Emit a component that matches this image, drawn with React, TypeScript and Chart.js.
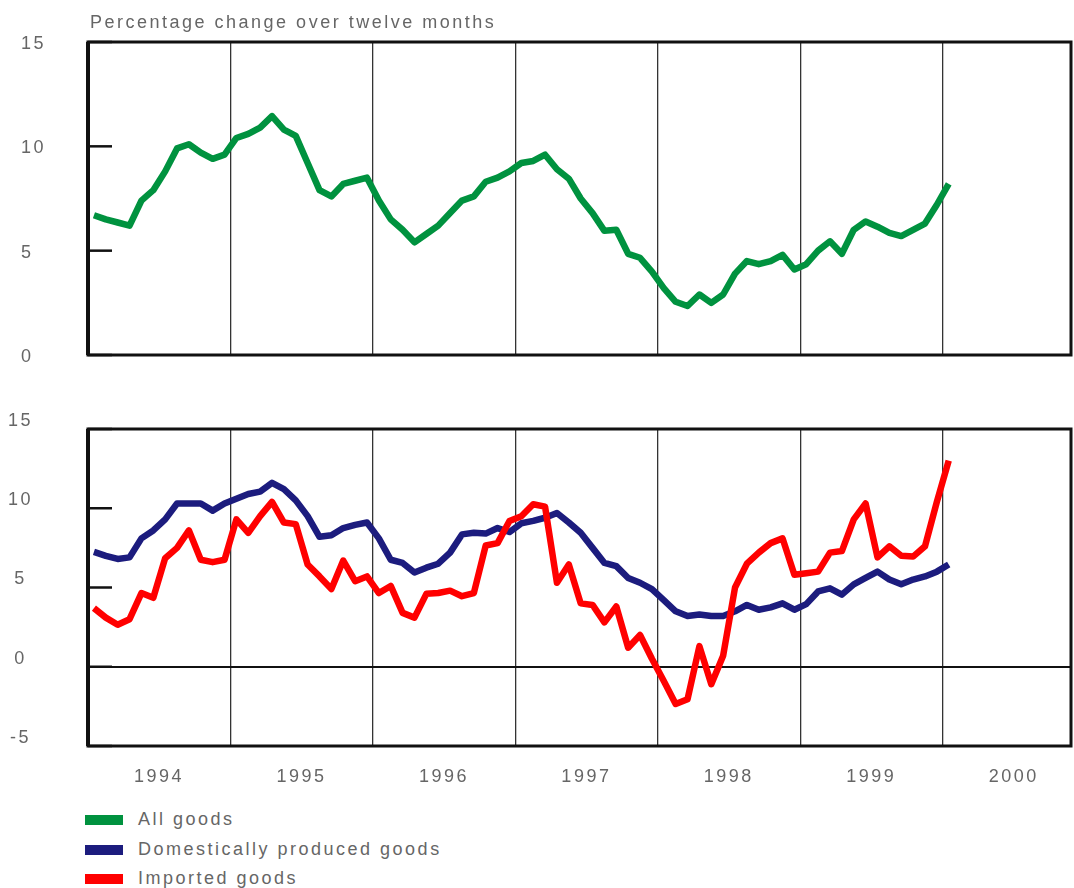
import React, { useEffect, useRef } from 'react';
import { Chart, registerables } from 'chart.js';

Chart.register(...registerables);

// ---------- data ----------
const yearLabels = ['1994', '1995', '1996', '1997', '1998', '1999', '2000'];
const firstYear = 1994;

// monthly observations, January 1994 – January 2000
const months: string[] = [];
for (let y = 1994; y <= 2000; y++) {
  for (let m = 1; m <= 12; m++) {
    if (months.length < 73) months.push(`${y}-${String(m).padStart(2, '0')}`);
  }
}

const allGoods = [
  6.7, 6.5, 6.35, 6.2, 7.4, 7.9, 8.8, 9.9, 10.1, 9.7,
  9.4, 9.6, 10.4, 10.6, 10.9, 11.45, 10.8, 10.5, 9.2, 7.9,
  7.6, 8.2, 8.35, 8.5, 7.4, 6.5, 6.0, 5.4, 5.8, 6.2,
  6.8, 7.4, 7.6, 8.3, 8.5, 8.8, 9.2, 9.3, 9.6, 8.9,
  8.45, 7.5, 6.8, 5.95, 6.0, 4.85, 4.66, 4.0, 3.2, 2.55,
  2.35, 2.9, 2.5, 2.9, 3.9, 4.5, 4.35, 4.5, 4.8, 4.1,
  4.35, 5.0, 5.45, 4.85, 6.0, 6.4, 6.15, 5.85, 5.7, 6.0,
  6.3, 7.2, 8.2,
];

const domestic = [
  7.25, 7.0, 6.8, 6.9, 8.1, 8.6, 9.3, 10.3, 10.3, 10.3,
  9.85, 10.3, 10.6, 10.9, 11.05, 11.6, 11.2, 10.5, 9.5, 8.2,
  8.3, 8.75, 8.95, 9.1, 8.1, 6.75, 6.55, 5.95, 6.25, 6.5,
  7.2, 8.35, 8.45, 8.4, 8.75, 8.5, 9.05, 9.2, 9.4, 9.7,
  9.1, 8.45, 7.5, 6.55, 6.35, 5.6, 5.3, 4.9, 4.2, 3.5,
  3.2, 3.3, 3.2, 3.2, 3.5, 3.9, 3.6, 3.75, 4.0, 3.6,
  3.95, 4.75, 4.95, 4.55, 5.2, 5.6, 6.0, 5.5, 5.2, 5.5,
  5.7, 6.0, 6.45,
];

const imported = [
  3.7, 3.1, 2.65, 3.0, 4.65, 4.35, 6.85, 7.5, 8.6, 6.75,
  6.6, 6.75, 9.3, 8.45, 9.5, 10.4, 9.1, 9.0, 6.45, 5.7,
  4.9, 6.7, 5.4, 5.7, 4.65, 5.1, 3.4, 3.1, 4.6, 4.65,
  4.8, 4.45, 4.65, 7.65, 7.8, 9.2, 9.5, 10.25, 10.1, 5.3,
  6.45, 4.0, 3.9, 2.8, 3.8, 1.2, 2.0, 0.5, -0.9, -2.35,
  -2.05, 1.3, -1.1, 0.7, 5.0, 6.5, 7.2, 7.8, 8.1, 5.8,
  5.9, 6.0, 7.2, 7.3, 9.3, 10.3, 6.9, 7.6, 7.0, 6.95,
  7.6, 10.4, 13.0,
];

const topYTicks = [0, 5, 10, 15];
const bottomYTicks = [-5, 0, 5, 10, 15];

const seriesNames = ['All goods', 'Domestically produced goods', 'Imported goods'];
const seriesColors = ['#00923f', '#1c1c7e', '#ff0000'];
const subtitle = 'Percentage change over twelve months';

// ---------- helpers ----------
const X_MAX = 82.8; // months after January 1994 shown on the axis
const FONT = "'Liberation Sans', Arial, Helvetica, sans-serif";
const TEXT_COLOR = '#666';

const monthPos = (label: string) => {
  const [y, m] = label.split('-').map(Number);
  return (y - firstYear) * 12 + (m - 1) + 0.5;
};

const toPoints = (values: number[]) =>
  values.map((v, i) => ({ x: monthPos(months[i]), y: v }));

const makeDataset = (idx: number, values: number[]) => ({
  label: seriesNames[idx],
  data: toPoints(values),
  borderColor: seriesColors[idx],
  backgroundColor: seriesColors[idx],
  borderWidth: 6.5,
  pointRadius: 0,
  tension: 0,
  fill: false,
  borderJoinStyle: 'round' as const,
  borderCapStyle: 'butt' as const,
});

const spacingPlugin = {
  id: 'letterSpacing',
  beforeLayout(chart: any) {
    chart.ctx.letterSpacing = '2.5px';
  },
  beforeDraw(chart: any) {
    chart.ctx.letterSpacing = '2.5px';
  },
};

const framePlugin = {
  id: 'frame',
  afterDatasetsDraw(chart: any) {
    const { ctx, chartArea: a } = chart;
    const ys = chart.scales.y;
    ctx.save();
    ctx.strokeStyle = '#111';
    ctx.lineWidth = 2.5;
    ys.ticks.forEach((t: any) => {
      const py = ys.getPixelForValue(t.value);
      ctx.beginPath();
      ctx.moveTo(a.left, py);
      ctx.lineTo(a.left + 24, py);
      ctx.stroke();
    });
    ctx.lineWidth = 3;
    ctx.strokeRect(a.left, a.top, a.right - a.left, a.bottom - a.top);
    ctx.lineWidth = 4;
    ctx.beginPath();
    ctx.moveTo(a.left, a.top);
    ctx.lineTo(a.left, a.bottom);
    ctx.stroke();
    ctx.restore();
  },
};

function makeConfig(datasets: any[], yMin: number, yMax: number, yTicks: number[], isBottom: boolean): any {
  return {
    type: 'line',
    data: { datasets },
    options: {
      animation: false,
      responsive: false,
      events: [],
      layout: {
        padding: isBottom
          ? { top: 29, right: 3, bottom: 0, left: 0 }
          : { top: 42, right: 3, bottom: 15, left: 21 },
      },
      plugins: {
        legend: { display: false },
        tooltip: { enabled: false },
        title: { display: false },
      },
      scales: {
        x: {
          type: 'linear',
          min: 0,
          max: X_MAX,
          afterBuildTicks: (s: any) => {
            s.ticks = yearLabels.map((y) => ({ value: (Number(y) - firstYear) * 12 }));
          },
          afterFit: (s: any) => {
            s.height = isBottom ? 54 : 0;
            s.paddingLeft = 0;
            s.paddingRight = 0;
          },
          grid: { color: '#333', lineWidth: 1.3, drawTicks: false },
          border: { display: false },
          ticks: {
            display: isBottom,
            autoSkip: false,
            maxRotation: 0,
            labelOffset: 71,
            padding: 20,
            color: TEXT_COLOR,
            font: { family: FONT, size: 18 },
            callback: (v: number) => yearLabels[Math.round(v / 12)],
          },
        },
        y: {
          min: yMin,
          max: yMax,
          afterBuildTicks: (s: any) => {
            s.ticks = yTicks.map((v) => ({ value: v }));
          },
          afterFit: (s: any) => {
            s.width = isBottom ? 88 : 67;
            s.paddingTop = 0;
            s.paddingBottom = 0;
          },
          grid: {
            drawTicks: false,
            lineWidth: 2,
            color: (c: any) =>
              isBottom && c.tick && c.tick.value === 0 ? '#111' : 'rgba(0,0,0,0)',
          },
          border: { display: false },
          ticks: {
            crossAlign: isBottom ? 'center' : 'far',
            padding: isBottom ? 55 : 0,
            labelOffset: isBottom ? -8 : 2,
            color: TEXT_COLOR,
            font: { family: FONT, size: 18 },
          },
        },
      },
    },
    plugins: [spacingPlugin, framePlugin],
  };
}

export default function App() {
  const topRef = useRef<HTMLCanvasElement>(null);
  const botRef = useRef<HTMLCanvasElement>(null);

  useEffect(() => {
    if (!topRef.current || !botRef.current) return;
    const top = new Chart(
      topRef.current,
      makeConfig([makeDataset(0, allGoods)], 0, 15, topYTicks, false)
    );
    const bottom = new Chart(
      botRef.current,
      makeConfig(
        [makeDataset(2, imported), makeDataset(1, domestic)],
        -5,
        15,
        bottomYTicks,
        true
      )
    );
    return () => {
      top.destroy();
      bottom.destroy();
    };
  }, []);

  const textStyle: React.CSSProperties = {
    position: 'absolute',
    fontFamily: FONT,
    fontSize: 18,
    lineHeight: '18px',
    letterSpacing: '2.5px',
    color: TEXT_COLOR,
    whiteSpace: 'nowrap',
  };

  return (
    <div style={{ position: 'absolute', left: 0, top: 0, width: 1074, height: 888, background: '#fff', overflow: 'hidden' }}>
      <canvas ref={topRef} width={1074} height={370} style={{ position: 'absolute', left: 0, top: 0 }} />
      <canvas ref={botRef} width={1074} height={400} style={{ position: 'absolute', left: 0, top: 400 }} />
      <div style={{ ...textStyle, left: 90, top: 13 }}>{subtitle}</div>
      {seriesNames.map((name, i) => (
        <React.Fragment key={name}>
          <div
            style={{
              position: 'absolute',
              left: 85,
              top: 815 + i * 29.5,
              width: 38,
              height: 10,
              background: seriesColors[i],
            }}
          />
          <div style={{ ...textStyle, left: 138, top: 810 + i * 29.5 }}>{name}</div>
        </React.Fragment>
      ))}
    </div>
  );
}
